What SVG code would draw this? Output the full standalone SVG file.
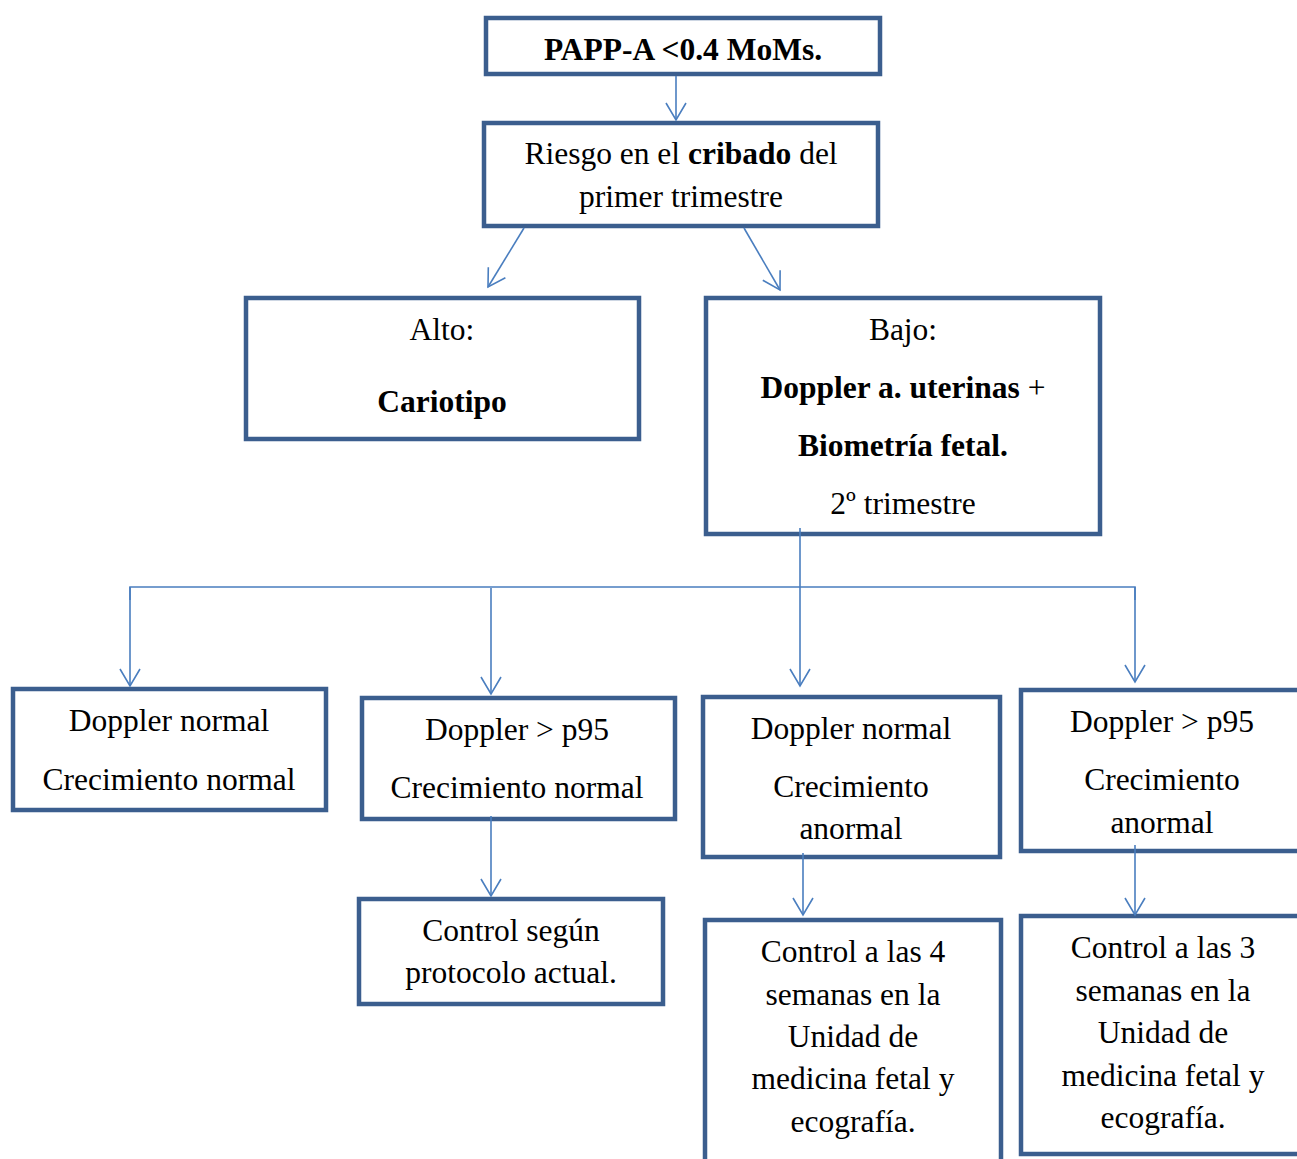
<svg xmlns="http://www.w3.org/2000/svg" width="1297" height="1159" viewBox="0 0 1297 1159">
<style>
.box{fill:#fff;stroke:#3B5E8E;stroke-width:4.5}
.t{font-family:"Liberation Serif","Times New Roman",serif;font-size:31.5px;fill:#000;text-anchor:middle}
.b{font-weight:bold}
.c{fill:none;stroke:#4A7EBF;stroke-width:1.6}
</style>
<defs>
<marker id="a" viewBox="0 0 20 22" refX="18" refY="11" markerWidth="20" markerHeight="22" markerUnits="userSpaceOnUse" orient="auto">
<path d="M1,1 L18,11 L1,21" fill="none" stroke="#4A7EBF" stroke-width="1.6"/>
</marker>
</defs>
<rect width="1297" height="1159" fill="#fff"/>
<g id="n1">
<rect class="box" x="486" y="18" width="394" height="56"/>
<text class="t b" x="683" y="60">PAPP-A &lt;0.4 MoMs.</text>
</g>
<g id="n2">
<rect class="box" x="484" y="123" width="394" height="103"/>
<text class="t" x="681" y="164">Riesgo en el <tspan class="b">cribado</tspan> del</text>
<text class="t" x="681" y="207">primer trimestre</text>
</g>
<g id="n3">
<rect class="box" x="246" y="298" width="393" height="141"/>
<text class="t" x="442" y="340">Alto:</text>
<text class="t b" x="442" y="412">Cariotipo</text>
</g>
<g id="n4">
<rect class="box" x="706" y="298" width="394" height="236"/>
<text class="t" x="903" y="340">Bajo:</text>
<text class="t" x="903" y="398"><tspan class="b">Doppler a. uterinas</tspan> +</text>
<text class="t b" x="903" y="456">Biometría fetal.</text>
<text class="t" x="903" y="514">2º trimestre</text>
</g>
<g id="n5">
<rect class="box" x="13" y="689" width="313" height="121"/>
<text class="t" x="169" y="731">Doppler normal</text>
<text class="t" x="169" y="790">Crecimiento normal</text>
</g>
<g id="n6">
<rect class="box" x="362" y="698" width="313" height="121"/>
<text class="t" x="517" y="740">Doppler &gt; p95</text>
<text class="t" x="517" y="798">Crecimiento normal</text>
</g>
<g id="n7">
<rect class="box" x="703" y="697" width="297" height="160"/>
<text class="t" x="851" y="739">Doppler normal</text>
<text class="t" x="851" y="797">Crecimiento</text>
<text class="t" x="851" y="839">anormal</text>
</g>
<g id="n8">
<rect class="box" x="1021" y="690" width="290" height="161"/>
<text class="t" x="1162" y="732">Doppler &gt; p95</text>
<text class="t" x="1162" y="790">Crecimiento</text>
<text class="t" x="1162" y="833">anormal</text>
</g>
<g id="n9">
<rect class="box" x="359" y="899" width="304" height="105"/>
<text class="t" x="511" y="941">Control según</text>
<text class="t" x="511" y="983">protocolo actual.</text>
</g>
<g id="n10">
<rect class="box" x="705" y="920" width="296" height="260"/>
<text class="t" x="853" y="962">Control a las 4</text>
<text class="t" x="853" y="1005">semanas en la</text>
<text class="t" x="853" y="1047">Unidad de</text>
<text class="t" x="853" y="1089">medicina fetal y</text>
<text class="t" x="853" y="1132">ecografía.</text>
</g>
<g id="n11">
<rect class="box" x="1021" y="916" width="290" height="238"/>
<text class="t" x="1163" y="958">Control a las 3</text>
<text class="t" x="1163" y="1001">semanas en la</text>
<text class="t" x="1163" y="1043">Unidad de</text>
<text class="t" x="1163" y="1086">medicina fetal y</text>
<text class="t" x="1163" y="1128">ecografía.</text>
</g>
<g id="connectors">
<line class="c" x1="676" y1="76" x2="676" y2="120" marker-end="url(#a)"/>
<line class="c" x1="524" y1="228" x2="488" y2="287" marker-end="url(#a)"/>
<line class="c" x1="744" y1="228" x2="780" y2="290" marker-end="url(#a)"/>
<line class="c" x1="800" y1="528" x2="800" y2="686" marker-end="url(#a)"/>
<polyline class="c" points="130,600 130,587 1135,587 1135,600"/>
<line class="c" x1="130" y1="587" x2="130" y2="686" marker-end="url(#a)"/>
<line class="c" x1="1135" y1="587" x2="1135" y2="682" marker-end="url(#a)"/>
<line class="c" x1="491" y1="588" x2="491" y2="694" marker-end="url(#a)"/>
<line class="c" x1="491" y1="816" x2="491" y2="896" marker-end="url(#a)"/>
<line class="c" x1="803" y1="853" x2="803" y2="915" marker-end="url(#a)"/>
<line class="c" x1="1135" y1="845" x2="1135" y2="915" marker-end="url(#a)"/>
</g>
</svg>
